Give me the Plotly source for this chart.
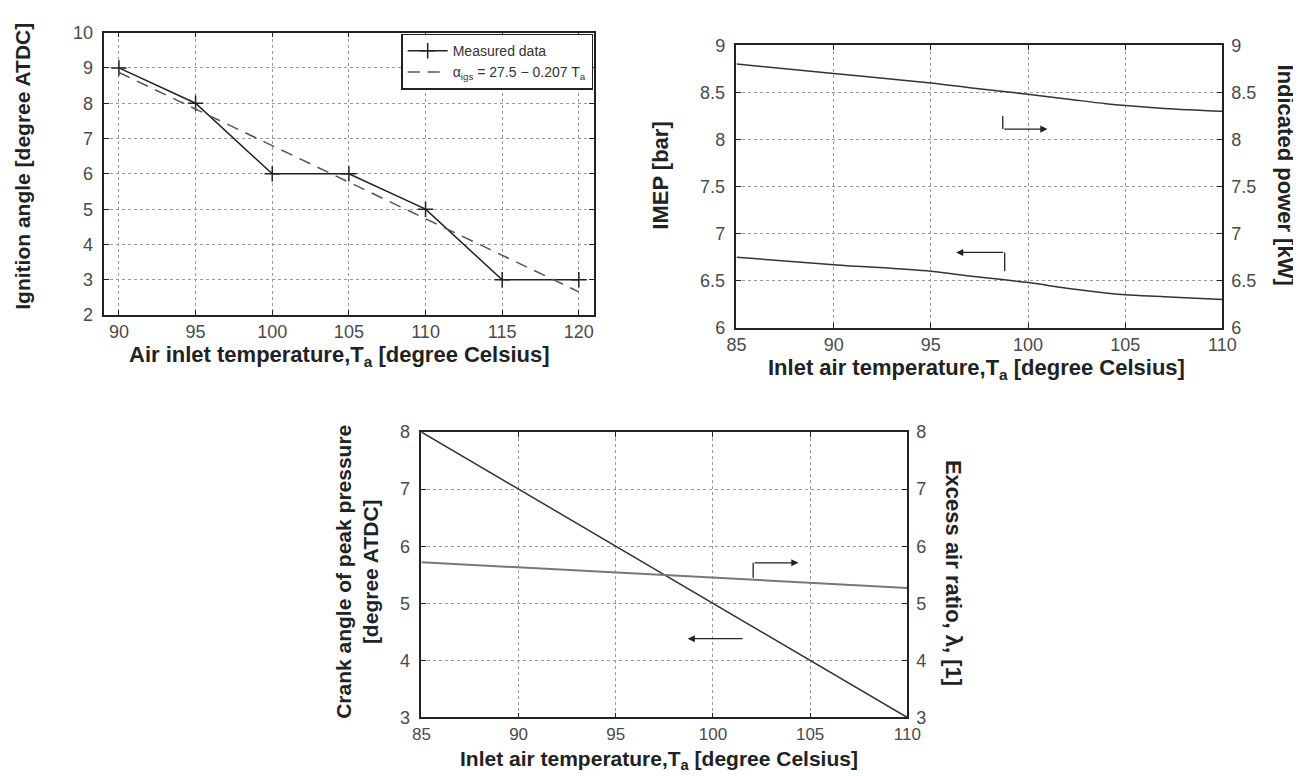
import plotly.graph_objects as go

# ---- Data ----
ign_T = [90, 95, 100, 105, 110, 115, 120]
ign_angle = [9, 8, 6, 6, 5, 3, 3]
fit_T = [90, 120]
fit_angle = [8.87, 2.66]

pw_T = [85, 90, 95, 97, 100, 102, 104, 105, 107, 110]
indicated_power = [8.80, 8.70, 8.60, 8.55, 8.48, 8.43, 8.38, 8.36, 8.33, 8.30]
imep = [6.75, 6.67, 6.60, 6.55, 6.48, 6.42, 6.37, 6.35, 6.33, 6.30]

cr_T = [85, 110]
crank_angle = [8.0, 3.0]
lam_T = [85, 97.5, 110]
excess_air = [5.72, 5.50, 5.27]

x_ticks_a = [90, 95, 100, 105, 110, 115, 120]
y_ticks_a = [2, 3, 4, 5, 6, 7, 8, 9, 10]
x_ticks_b = [85, 90, 95, 100, 105, 110]
y_ticks_b = [6, 6.5, 7, 7.5, 8, 8.5, 9]
y_ticks_c = [3, 4, 5, 6, 7, 8]

# arrow indicators (data coords): [x_start, y_start, x_corner, y_corner, x_head]
arrow_power = [98.7, 8.25, 98.7, 8.11, 101.0]
arrow_imep = [98.8, 6.60, 98.8, 6.80, 96.3]
arrow_lambda = [102.07, 5.45, 102.07, 5.71, 104.4]
arrow_crank = [101.6, 4.38, 98.7]

W, H = 1301, 776
def px(x):
    return x / W
def py(y):
    return 1 - y / H

FONT = "Arial, Liberation Sans, sans-serif"
TICKC = "#4a4a4a"
TITLEC = "#222222"
LINEC = "#333333"
TICKSIZE = 18

fig = go.Figure()

# Top-left
fig.add_trace(go.Scatter(x=ign_T, y=ign_angle, mode="lines+markers", name="Measured data",
                         line=dict(color="#222222", width=1.5),
                         marker=dict(symbol="cross-thin", size=11, line=dict(width=1.5, color="#222222")),
                         xaxis="x", yaxis="y"))
fig.add_trace(go.Scatter(x=fit_T, y=fit_angle, mode="lines",
                         name="α<sub>igs</sub> = 27.5 − 0.207 T<sub>a</sub>",
                         line=dict(color="#555555", width=1.5, dash="12px,8px"),
                         xaxis="x", yaxis="y"))

# Top-right
fig.add_trace(go.Scatter(x=pw_T, y=imep, mode="lines", showlegend=False,
                         line=dict(color=LINEC, width=1.5, shape="spline"), xaxis="x2", yaxis="y2"))
fig.add_trace(go.Scatter(x=pw_T, y=indicated_power, mode="lines", showlegend=False,
                         line=dict(color=LINEC, width=1.5, shape="spline"), xaxis="x2", yaxis="y3"))

# Bottom
fig.add_trace(go.Scatter(x=cr_T, y=crank_angle, mode="lines", showlegend=False,
                         line=dict(color=LINEC, width=1.5), xaxis="x3", yaxis="y4"))
fig.add_trace(go.Scatter(x=lam_T, y=excess_air, mode="lines", showlegend=False,
                         line=dict(color="#777777", width=2), xaxis="x3", yaxis="y5"))

def xax(dom, rng, ticks, anchor, size=TICKSIZE):
    return dict(domain=dom, range=rng, tickvals=ticks, anchor=anchor,
                showline=True, linecolor="#222222", linewidth=1.5, mirror="ticks",
                ticks="inside", ticklen=5, tickcolor="#222222",
                showgrid=True, gridcolor="#999999", griddash="dot", gridwidth=1,
                zeroline=False, ticklabelstandoff=0,
                tickfont=dict(family=FONT, size=size, color=TICKC))

def yax(dom, rng, ticks, anchor, mirror="ticks", **kw):
    d = dict(domain=dom, range=rng, tickvals=ticks, anchor=anchor,
             showline=True, linecolor="#222222", linewidth=1.5, mirror=mirror,
             ticks="inside", ticklen=5, tickcolor="#222222",
             showgrid=True, gridcolor="#999999", griddash="dot", gridwidth=1,
             zeroline=False, ticklabelstandoff=6,
             tickfont=dict(family=FONT, size=TICKSIZE, color=TICKC))
    d.update(kw)
    return d

def yright(over, anchor, rng, ticks):
    return dict(overlaying=over, side="right", anchor=anchor, range=rng, tickvals=ticks,
                showline=False, ticks="inside", ticklen=5, tickcolor="#222222", showgrid=False,
                zeroline=False, ticklabelstandoff=8,
                tickfont=dict(family=FONT, size=TICKSIZE, color=TICKC))

fig.update_layout(
    width=W, height=H,
    margin=dict(l=0, r=0, t=0, b=0),
    paper_bgcolor="white", plot_bgcolor="white",
    xaxis=xax([px(88), px(587)], [89.05, 121], x_ticks_a, "y"),
    yaxis=yax([py(305), py(15)], [2, 10], y_ticks_a, "x"),
    xaxis2=xax([px(732), px(1227)], [85, 110], x_ticks_b, "y2"),
    yaxis2=yax([py(318), py(28)], [6, 9], y_ticks_b, "x2", mirror=True),
    yaxis3=yright("y2", "x2", [6, 9], y_ticks_b),
    xaxis3=xax([px(411), px(906)], [85, 110], x_ticks_b, "y4", size=17),
    yaxis4=yax([py(718), py(425)], [3, 8], y_ticks_c, "x3", mirror=True),
    yaxis5=yright("y4", "x3", [3, 8], y_ticks_c),
    legend=dict(x=px(586), y=py(16), xanchor="right", yanchor="top",
                bgcolor="white", bordercolor="#222222", borderwidth=1.5,
                font=dict(family=FONT, size=14, color="#333333"),
                tracegroupgap=0, itemwidth=40),
    showlegend=True,
)

ann = []
def title(text, x, y, angle=0, size=22, xshift=0):
    ann.append(dict(text=text, x=px(x), y=py(y), xref="paper", yref="paper",
                    showarrow=False, textangle=angle, xanchor="center", yanchor="middle",
                    xshift=xshift,
                    font=dict(family=FONT, size=size, color=TITLEC, weight="bold")))

title("Air inlet temperature,T<sub>a</sub> [degree Celsius]", 328, 347)
title("Ignition angle [degree ATDC]", 19, 152, -90, size=21, xshift=-15)
title("Inlet air temperature,T<sub>a</sub> [degree Celsius]", 977, 360)
title("IMEP [bar]", 660, 162, -90, xshift=-5)
title("Indicated power [kW]", 1283, 161, 90, xshift=8)
title("Inlet air temperature,T<sub>a</sub> [degree Celsius]", 653, 762, size=21)
title("Crank angle of peak pressure<br>[degree ATDC]", 352, 569, -90, size=21, xshift=-6)
title("Excess air ratio, λ, [1]", 955, 570, 90, xshift=-2)

def arrow(xr, yr, x0, y0, x1):
    ann.append(dict(x=x1, y=y0, ax=x0, ay=y0, xref=xr, yref=yr, axref=xr, ayref=yr,
                    text="", showarrow=True, arrowhead=2, arrowsize=1.1, arrowwidth=1.3,
                    arrowcolor="#222222", standoff=0, startstandoff=0))

shapes = []
def seg(xr, yr, x0, y0, x1, y1):
    shapes.append(dict(type="line", xref=xr, yref=yr, x0=x0, y0=y0, x1=x1, y1=y1,
                       line=dict(color="#222222", width=1.3)))

a = arrow_power
seg("x2", "y2", a[0], a[1], a[2], a[3]); arrow("x2", "y2", a[2], a[3], a[4])
a = arrow_imep
seg("x2", "y2", a[0], a[1], a[2], a[3]); arrow("x2", "y2", a[2], a[3], a[4])
a = arrow_lambda
seg("x3", "y4", a[0], a[1], a[2], a[3]); arrow("x3", "y4", a[2], a[3], a[4])
a = arrow_crank
arrow("x3", "y4", a[0], a[1], a[2])

fig.update_layout(annotations=ann, shapes=shapes)

fig.write_html("out.html")
